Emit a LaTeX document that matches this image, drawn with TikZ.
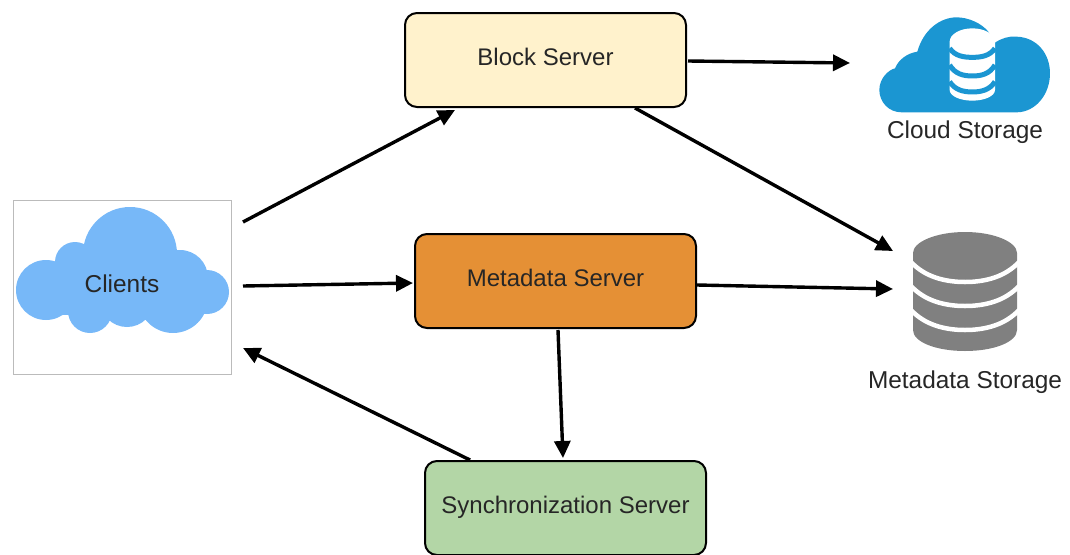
\documentclass[tikz,border=0pt]{standalone}
\usepackage{fontspec}
\setmainfont{Liberation Sans}
\usetikzlibrary{arrows.meta}
\definecolor{cloudblue}{HTML}{1B96D2}
\definecolor{clientblue}{HTML}{77B8F8}
\definecolor{dbgray}{HTML}{808080}
\definecolor{blockfill}{HTML}{FFF2CC}
\definecolor{metafill}{HTML}{E59035}
\definecolor{syncfill}{HTML}{B3D6A6}
\definecolor{framegray}{HTML}{BBBBBB}
\tikzset{
  server/.style={draw=black,line width=2pt,rounded corners=12pt,minimum width=281pt,minimum height=94pt,inner sep=0pt,anchor=north west,text=black!85,text height=17pt,text depth=7pt,font=\fontsize{24}{28}\selectfont},
  lbl/.style={inner sep=0pt,text=black!85,font=\fontsize{24.4}{28}\selectfont},
  conn/.style={line width=3.4pt,-{Triangle[length=17pt,width=16pt]}}
}
\begin{document}
\begin{tikzpicture}[x=1pt,y=-1pt]
\useasboundingbox (0,0) rectangle (1070,554);
\clip (0,0) rectangle (1070,554);
% clients cloud
\node[draw=framegray,line width=1pt,minimum width=218pt,minimum height=174pt,inner sep=0pt,anchor=north west] (frame) at (13,200) {};
\fill[clientblue] (130,254) circle (47) (46,290) circle (30) (75,262) circle (20) (207,292) circle (22) (90,311) circle (22) (127,300) circle (27) (173,298) circle (35) (180,278) circle (28);
\fill[clientblue] (60,270) rectangle (200,315);
\node[lbl] (clients) at (122,284) {Clients};
% cloud storage icon
\begin{scope}[shift={(860,0)},x=0.3333pt,y=-0.3333pt]
\fill[cloudblue] (125,337) .. controls (85,337) and (58,305) .. (58,270)
  .. controls (58,235) and (85,210) .. (105,205)
  .. controls (115,180) and (140,160) .. (172,155)
  .. controls (190,90) and (240,52) .. (290,52)
  .. controls (325,52) and (365,70) .. (385,95)
  -- (405,128)
  .. controls (425,115) and (445,108) .. (470,110)
  .. controls (530,112) and (570,160) .. (570,220)
  .. controls (570,285) and (525,337) .. (470,337) -- cycle;
\fill[white] (269,125) .. controls (269,103) and (300,85) .. (337,85)
  .. controls (374,85) and (405,103) .. (405,125) -- (405,270)
  .. controls (405,288) and (374,302) .. (337,302)
  .. controls (300,302) and (269,288) .. (269,270) -- cycle;
\draw[cloudblue,line width=5pt]
  (269,145) .. controls (285,168) and (310,172) .. (337,172) .. controls (364,172) and (389,168) .. (405,145)
  (269,195) .. controls (285,222) and (310,228) .. (337,228) .. controls (364,228) and (389,222) .. (405,195)
  (269,245) .. controls (285,270) and (310,276) .. (337,276) .. controls (364,276) and (389,270) .. (405,245);
\end{scope}
\node[lbl] (cloudlbl) at (965,132) {Cloud Storage};
% metadata storage icon
\fill[dbgray] (913,253) .. controls (913,242) and (936,232) .. (965,232)
  .. controls (994,232) and (1017,242) .. (1017,253) -- (1017,330)
  .. controls (1017,342) and (994,351) .. (965,351)
  .. controls (936,351) and (913,342) .. (913,330) -- cycle;
\draw[white,line width=4.5pt]
  (911,262) .. controls (925,277) and (945,282) .. (965,282) .. controls (985,282) and (1005,277) .. (1019,262)
  (911,286) .. controls (925,301) and (945,306) .. (965,306) .. controls (985,306) and (1005,301) .. (1019,286)
  (911,310) .. controls (925,325) and (945,330) .. (965,330) .. controls (985,330) and (1005,325) .. (1019,310);
\node[lbl] (metalbl) at (965,382) {Metadata Storage};
% servers
\node[server,fill=blockfill] (block) at (404,12) {Block Server};
\node[server,fill=metafill] (meta) at (414,233) {Metadata Server};
\node[server,fill=syncfill] (sync) at (424,460) {Synchronization Server};
% connector ends
\coordinate (cA) at (243,222); \coordinate (bA) at (455,110);
\coordinate (bB) at (688,61);  \coordinate (csA) at (850,63);
\coordinate (bC) at (635,108); \coordinate (msA) at (893,251);
\coordinate (cB) at (243,286); \coordinate (mA) at (413,283);
\coordinate (mB) at (697,285); \coordinate (msB) at (893,289);
\coordinate (mC) at (558,330); \coordinate (sA) at (563,458);
\coordinate (sB) at (470,460); \coordinate (cC) at (243,348);
\draw[conn] (cA) -- (bA);
\draw[conn] (bB) -- (csA);
\draw[conn] (bC) -- (msA);
\draw[conn] (cB) -- (mA);
\draw[conn] (mB) -- (msB);
\draw[conn] (mC) -- (sA);
\draw[conn] (sB) -- (cC);
\end{tikzpicture}
\end{document}
